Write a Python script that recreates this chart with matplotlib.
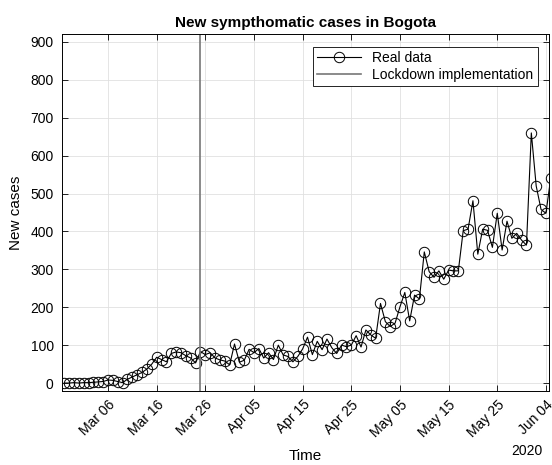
import numpy as np
import pandas as pd
import matplotlib
matplotlib.use('Agg')
import matplotlib.pyplot as plt

plt.rcParams['font.family'] = ['Liberation Sans', 'DejaVu Sans']

# daily new symptomatic cases, Feb 26 - Jun 5 2020
dates = pd.date_range('2020-02-26', '2020-06-05', freq='D')
new_cases = [0, 0, 1, 0, 1, 1, 2, 3, 4,
             8, 7, 4, 1, 10, 16, 22, 28, 37, 50,
             68, 62, 56, 78, 82, 80, 72, 66, 53, 83,
             75, 80, 66, 61, 58, 48,
             103, 55, 60, 89, 80, 91, 66, 80, 62, 100,
             74, 70, 56, 70, 90, 121, 75, 110, 88, 116,
             93, 78, 100, 96, 100, 125, 95, 140, 127, 118,
             210, 162, 149, 158, 201, 239, 164, 232, 222, 346,
             294, 279, 296, 274, 298, 296, 296, 402, 406, 481,
             340, 406, 403, 358, 448, 351, 427, 382, 395, 377,
             364, 660, 520, 458, 448, 542]
lockdown_date = pd.Timestamp('2020-03-25')

tick_dates = pd.date_range('2020-03-06', '2020-06-04', freq='10D')
tick_labels = [d.strftime('%b %d') for d in tick_dates]

fig = plt.figure(figsize=(5.52, 4.65), dpi=100)
ax = fig.add_axes([0.1123, 0.16, 0.8822, 0.766])

ax.plot(dates, new_cases, '-o', color='black', lw=0.8, markersize=7.5,
        markerfacecolor='none', markeredgewidth=0.7, label='Real data')
ax.axvline(lockdown_date, color='#777777', lw=1.2, label='Lockdown implementation')

ax.set_xlim(pd.Timestamp('2020-02-25 13:00'), pd.Timestamp('2020-06-04 15:00'))
ax.set_ylim(-20, 920)
ax.set_yticks(np.arange(0, 901, 100))
ax.set_xticks(tick_dates)
ax.set_xticklabels(tick_labels, rotation=45, ha='right', rotation_mode='anchor')

ax.grid(True, color='#e0e0e0', lw=0.6)
ax.set_axisbelow(True)
ax.tick_params(direction='in', length=4, width=0.6, top=True, right=True,
               labelsize=10, colors='black')
ax.tick_params(axis='y', pad=6)
ax.tick_params(axis='x', pad=5)
for s in ax.spines.values():
    s.set_linewidth(0.7)

ax.set_title('New sympthomatic cases in Bogota', fontsize=11, fontweight='bold', pad=5)
ax.set_xlabel('Time', fontsize=11)
ax.xaxis.set_label_coords(0.5, -0.165)
ax.set_ylabel('New cases', fontsize=11)
ax.yaxis.set_label_coords(-0.08, 0.5)
ax.text(0.955, -0.17, '2020', transform=ax.transAxes, ha='center', va='center', fontsize=10)

leg = ax.legend(loc='upper right', bbox_to_anchor=(0.977, 0.965), fontsize=10,
                fancybox=False, framealpha=1, edgecolor='black', handlelength=3.2,
                borderpad=0.3, labelspacing=0.2, borderaxespad=0)
leg.get_frame().set_linewidth(0.6)

fig.savefig('out.png', dpi=100)
